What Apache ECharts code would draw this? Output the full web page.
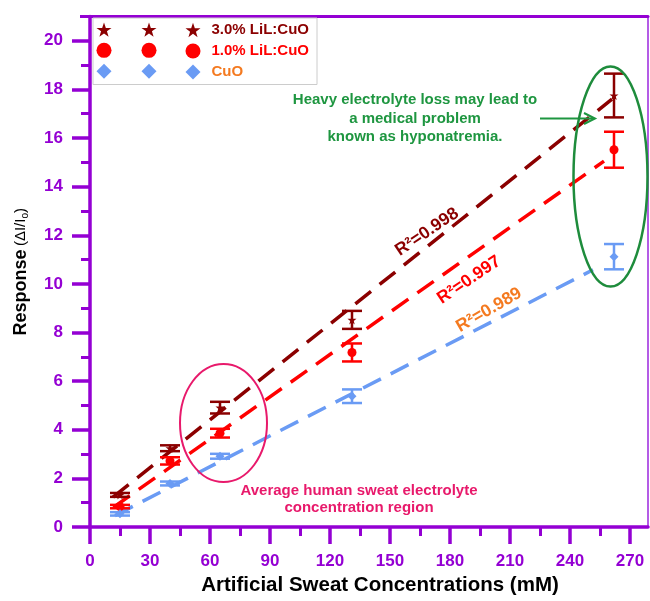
<!DOCTYPE html>
<html><head><meta charset="utf-8">
<script src="https://cdn.jsdelivr.net/npm/echarts@6/dist/echarts.min.js"></script>
<style>html,body{margin:0;padding:0;background:#fff}#c{width:650px;height:601px}</style>
</head><body><div id="c"></div>
<script>
// ---- data ----
const concentrations = [15, 40, 65, 131, 262];
const lil3Response = [1.32, 3.24, 4.91, 8.52, 17.75];
const lil3Error = [0.08, 0.12, 0.24, 0.37, 0.9];
const lil1Response = [0.84, 2.72, 3.86, 7.18, 15.52];
const lil1Error = [0.07, 0.15, 0.18, 0.37, 0.74];
const cuoResponse = [0.54, 1.79, 2.91, 5.38, 11.12];
const cuoError = [0.07, 0.08, 0.1, 0.28, 0.52];
const lil3Fit = [[11.5, 1.23], [261, 17.6]];
const lil1Fit = [[11.7, 0.81], [257, 15.05]];
const cuoFit = [[12.5, 0.47], [251.5, 10.58]];
const seriesNames = ['3.0% LiL:CuO', '1.0% LiL:CuO', 'CuO'];
const r2Labels = ['R²=0.998', 'R²=0.997', 'R²=0.989'];
const xMajorTicks = [0, 30, 60, 90, 120, 150, 180, 210, 240, 270];
const xMinorTicks = [15, 45, 75, 105, 135, 165, 195, 225, 255];
const yMajorTicks = [0, 2, 4, 6, 8, 10, 12, 14, 16, 18, 20];
const yMinorTicks = [1, 3, 5, 7, 9, 11, 13, 15, 17, 19];

// ---- styles ----
const PURPLE = '#9400D3';
const DARKRED = '#8B0000';
const RED = '#FF0000';
const BLUE = '#6A9BF4';
const ORANGE = '#F47A20';
const GREEN = '#1E9640';
const PINK = '#E8196B';
const FONT = 'Liberation Sans, Arial, sans-serif';
const STAR = 'path://M50,0 L61.8,35.1 L98.1,35.1 L68.8,56.7 L79.4,91.9 L50,70.6 L20.6,91.9 L31.2,56.7 L1.9,35.1 L38.2,35.1 Z';

const chart = echarts.init(document.getElementById('c'), null, {renderer: 'canvas'});

function errorSeries(name, resp, err, color) {
  return {
    type: 'custom', name: name + ' err', z: 3, silent: true,
    data: concentrations.map((x, i) => [x, resp[i] - err[i], resp[i] + err[i]]),
    encode: {x: 0, y: [1, 2]},
    renderItem: function (params, api) {
      const lo = api.coord([api.value(0), api.value(1)]);
      const hi = api.coord([api.value(0), api.value(2)]);
      const w = 10;
      const st = {stroke: color, lineWidth: 2.5};
      return {type: 'group', children: [
        {type: 'line', shape: {x1: hi[0], y1: hi[1], x2: lo[0], y2: lo[1]}, style: st},
        {type: 'line', shape: {x1: hi[0] - w, y1: hi[1], x2: hi[0] + w, y2: hi[1]}, style: st},
        {type: 'line', shape: {x1: lo[0] - w, y1: lo[1], x2: lo[0] + w, y2: lo[1]}, style: st}
      ]};
    }
  };
}
function scatterSeries(name, resp, symbol, size, color) {
  return {
    type: 'scatter', name: name, z: 4, symbol: symbol, symbolSize: size,
    itemStyle: {color: color, opacity: 1},
    data: concentrations.map((x, i) => [x, resp[i]])
  };
}
function fitSeries(name, pts, color) {
  return {
    type: 'line', name: name, z: 2, silent: true, symbol: 'none',
    lineStyle: {color: color, width: 3.5, type: [20, 11]},
    data: pts
  };
}

const legendText = [DARKRED, RED, ORANGE];
const legendData = seriesNames.map((n, i) => ({name: n, textStyle: {color: legendText[i]}}));
const legendBase = {
  orient: 'vertical', itemWidth: 15, itemHeight: 15, itemGap: 6,
  selectedMode: false,
  itemStyle: {opacity: 1},
  textStyle: {fontFamily: FONT, fontWeight: 'bold', fontSize: 15, lineHeight: 15},
  data: legendData
};

const axisLabelStyle = {color: PURPLE, fontFamily: FONT, fontWeight: 'bold', fontSize: 17};

const option = {
  animation: false,
  backgroundColor: '#fff',
  grid: {left: 90, right: 2, top: 16.5, bottom: 67.5},
  legend: [
    Object.assign({}, legendBase, {left: 96.5, top: 22.5, padding: 0, formatter: () => ''}),
    Object.assign({}, legendBase, {left: 141.5, top: 22.5, padding: 0, formatter: () => ''}),
    Object.assign({}, legendBase, {
      left: 93, top: 18, padding: [4.5, 8, 5, 92.5],
      borderColor: '#cccccc', borderWidth: 1,
      textStyle: Object.assign({}, legendBase.textStyle, {padding: [0, 0, 0, 6]})
    })
  ],
  xAxis: [
    {
      type: 'value', min: 0, max: 279, position: 'bottom',
      axisLine: {onZero: false, lineStyle: {color: PURPLE, width: 3.5}},
      axisTick: {customValues: xMajorTicks, length: 17, lineStyle: {color: PURPLE, width: 3.5}},
      axisLabel: Object.assign({customValues: xMajorTicks, margin: 26}, axisLabelStyle),
      splitLine: {show: false},
      name: 'Artificial Sweat Concentrations (mM)', nameLocation: 'middle', nameGap: 48,
      nameTextStyle: {color: '#000', fontFamily: FONT, fontWeight: 'bold', fontSize: 20.5, padding: [0, 0, 0, 22]}
    },
    {
      type: 'value', min: 0, max: 279, position: 'bottom',
      axisLine: {show: false},
      axisTick: {customValues: xMinorTicks, length: 9, lineStyle: {color: PURPLE, width: 3}},
      axisLabel: {show: false}, splitLine: {show: false}
    },
    {
      type: 'value', min: 0, max: 279, position: 'top',
      axisLine: {onZero: false, lineStyle: {color: PURPLE, width: 3}},
      axisTick: {show: false}, axisLabel: {show: false}, splitLine: {show: false}
    }
  ],
  yAxis: [
    {
      type: 'value', min: 0, max: 21, position: 'left',
      axisLine: {onZero: false, lineStyle: {color: PURPLE, width: 3.5}},
      axisTick: {customValues: yMajorTicks, length: 18, lineStyle: {color: PURPLE, width: 3.5}},
      axisLabel: Object.assign({customValues: yMajorTicks, margin: 27}, axisLabelStyle),
      splitLine: {show: false},
      name: '{a|Response} {b|(ΔI/I}{s|o}{b|)}', nameLocation: 'middle', nameGap: 60, nameRotate: 90,
      nameTextStyle: {
        color: '#000', fontFamily: FONT,
        rich: {
          a: {fontFamily: FONT, fontWeight: 'bold', fontSize: 18, color: '#000'},
          b: {fontFamily: FONT, fontWeight: 'normal', fontSize: 15, color: '#000'},
          s: {fontFamily: FONT, fontWeight: 'normal', fontSize: 10, color: '#000', verticalAlign: 'bottom'}
        }
      }
    },
    {
      type: 'value', min: 0, max: 21, position: 'left',
      axisLine: {show: false},
      axisTick: {customValues: yMinorTicks, length: 9, lineStyle: {color: PURPLE, width: 3}},
      axisLabel: {show: false}, splitLine: {show: false}
    },
    {
      type: 'value', min: 0, max: 21, position: 'right',
      axisLine: {onZero: false, lineStyle: {color: '#B45CE6', width: 2}},
      axisTick: {show: false}, axisLabel: {show: false}, splitLine: {show: false}
    }
  ],
  series: [
    fitSeries('fit3', lil3Fit, DARKRED),
    fitSeries('fit1', lil1Fit, RED),
    fitSeries('fitCuO', cuoFit, BLUE),
    errorSeries(seriesNames[0], lil3Response, lil3Error, DARKRED),
    errorSeries(seriesNames[1], lil1Response, lil1Error, RED),
    errorSeries(seriesNames[2], cuoResponse, cuoError, BLUE),
    scatterSeries(seriesNames[0], lil3Response, STAR, 9, DARKRED),
    scatterSeries(seriesNames[1], lil1Response, 'circle', 9, RED),
    scatterSeries(seriesNames[2], cuoResponse, 'diamond', 9, BLUE)
  ],
  graphic: [
    {type: 'line', z: 10, shape: {x1: 80, y1: 16.5, x2: 90, y2: 16.5}, style: {stroke: PURPLE, lineWidth: 3}},
    {type: 'text', z: 10, x: 415, y: 118.5,
      style: {text: 'Heavy electrolyte loss may lead to\na medical problem\nknown as hyponatremia.',
        align: 'center', verticalAlign: 'middle', lineHeight: 18.5,
        fontFamily: FONT, fontWeight: 'bold', fontSize: 15, fill: GREEN}},
    {type: 'line', z: 10, shape: {x1: 540, y1: 118.5, x2: 594, y2: 118.5}, style: {stroke: GREEN, lineWidth: 2}},
    {type: 'polyline', z: 10, shape: {points: [[584, 113], [595, 118.5], [584, 124]]}, style: {stroke: GREEN, lineWidth: 2, fill: null}},
    {type: 'ellipse', z: 10, shape: {cx: 610.5, cy: 176.5, rx: 37, ry: 110}, style: {stroke: '#1E8C3C', lineWidth: 2.5, fill: null}},
    {type: 'ellipse', z: 10, shape: {cx: 223.5, cy: 423, rx: 43.5, ry: 59}, style: {stroke: PINK, lineWidth: 2, fill: null}},
    {type: 'text', z: 10, x: 359, y: 499.5,
      style: {text: 'Average human sweat electrolyte\nconcentration region',
        align: 'center', verticalAlign: 'middle', lineHeight: 17,
        fontFamily: FONT, fontWeight: 'bold', fontSize: 15, fill: PINK}},
    {type: 'text', z: 10, x: 427, y: 232, rotation: 34 * Math.PI / 180,
      style: {text: r2Labels[0], align: 'center', verticalAlign: 'middle',
        fontFamily: FONT, fontWeight: 'bold', fontSize: 17.5, fill: DARKRED}},
    {type: 'text', z: 10, x: 469, y: 280, rotation: 34 * Math.PI / 180,
      style: {text: r2Labels[1], align: 'center', verticalAlign: 'middle',
        fontFamily: FONT, fontWeight: 'bold', fontSize: 17.5, fill: RED}},
    {type: 'text', z: 10, x: 489, y: 310, rotation: 30 * Math.PI / 180,
      style: {text: r2Labels[2], align: 'center', verticalAlign: 'middle',
        fontFamily: FONT, fontWeight: 'bold', fontSize: 17.5, fill: ORANGE}}
  ]
};
chart.setOption(option);
</script>
</body></html>
